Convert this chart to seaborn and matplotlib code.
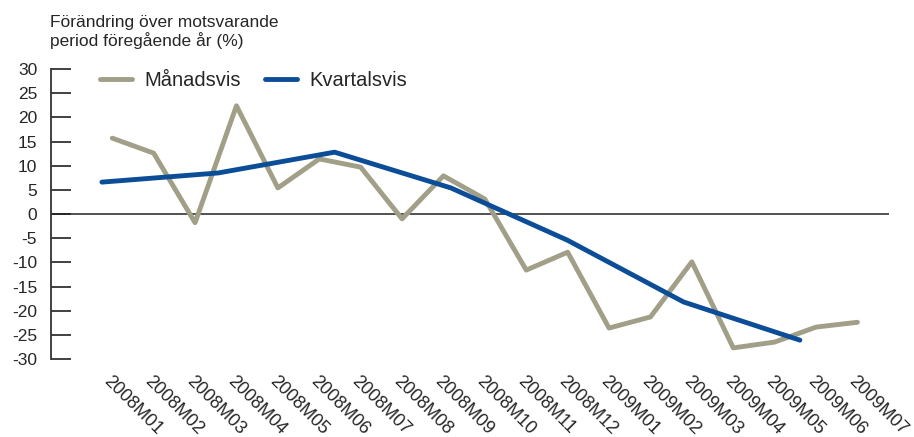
import numpy as np
import pandas as pd
import matplotlib
matplotlib.use("Agg")
import matplotlib.pyplot as plt
import seaborn as sns

# ---- data ----
months = ["2008M01", "2008M02", "2008M03", "2008M04", "2008M05", "2008M06",
          "2008M07", "2008M08", "2008M09", "2008M10", "2008M11", "2008M12",
          "2009M01", "2009M02", "2009M03", "2009M04", "2009M05", "2009M06",
          "2009M07"]
monthly = [15.7, 12.6, -1.8, 22.4, 5.4, 11.4, 9.7, -1.0, 7.9, 3.1, -11.6,
           -7.9, -23.6, -21.3, -9.9, -27.7, -26.5, -23.4, -22.4]
quarters = ["2008K1", "2008K2", "2008K3", "2008K4", "2009K1", "2009K2", "2009K3"]
quarterly = [6.6, 8.5, 12.8, 5.4, -5.4, -18.2, -26.1]
yticks = list(range(-30, 35, 5))

grey = "#A19F87"
blue = "#0B4D97"

sns.set_theme(style="white")
plt.rcParams["font.family"] = ["Liberation Sans", "DejaVu Sans"]

df_m = pd.DataFrame({"x": np.arange(len(months)), "v": monthly})
df_q = pd.DataFrame({"x": np.arange(len(quarters)), "v": quarterly})

fig = plt.figure(figsize=(9.14, 4.37), dpi=100)
ax = fig.add_axes([0.0558, 0.1785, 0.9172, 0.6635])

sns.lineplot(data=df_m, x="x", y="v", ax=ax, color=grey, lw=3.5,
             label="Månadsvis")
ax.axhline(0, color="#222222", lw=1.1, zorder=1)

ax.set_xlim(-1.48, 18.77)
ax.set_ylim(-30, 30)
ax.set_yticks(yticks)
ax.set_yticklabels([str(t) for t in yticks], fontsize=12.5)
ax.set_xticks(np.arange(len(months)))
ax.set_xticklabels(months, rotation=-45, ha="left", va="top",
                   rotation_mode="anchor", fontsize=13)
ax.tick_params(axis="x", length=0, pad=10)
ax.tick_params(axis="y", direction="in", length=14.5, width=1.3,
               color="#333333", pad=10, left=True)
ax.set_xlabel("")
ax.set_ylabel("")
for s in ["top", "right", "bottom"]:
    ax.spines[s].set_visible(False)
ax.spines["left"].set_color("#333333")
ax.spines["left"].set_linewidth(1.3)

# quarterly series on its own x scale (one step = ~2.8 months)
ax2 = ax.twiny()
a, b = -0.25, 2.81
ax2.set_xlim((-1.48 - a) / b, (18.77 - a) / b)
sns.lineplot(data=df_q, x="x", y="v", ax=ax2, color=blue, lw=3.5,
             label="Kvartalsvis")
ax2.set_ylim(-30, 30)
ax2.axis("off")
ax2.get_legend().remove()

h1, l1 = ax.get_legend_handles_labels()
h2, l2 = ax2.get_legend_handles_labels()
ax.legend(h1 + h2, l1 + l2, loc="upper left", bbox_to_anchor=(0.037, 1.055),
          ncol=2, frameon=False, fontsize=14.5, handlelength=1.6,
          handletextpad=0.6, columnspacing=1.2)

fig.text(0.055, 0.965, "Förändring över motsvarande\nperiod föregående år (%)",
         ha="left", va="top", fontsize=12.5, linespacing=1.15)

fig.savefig("out.png", dpi=100)
